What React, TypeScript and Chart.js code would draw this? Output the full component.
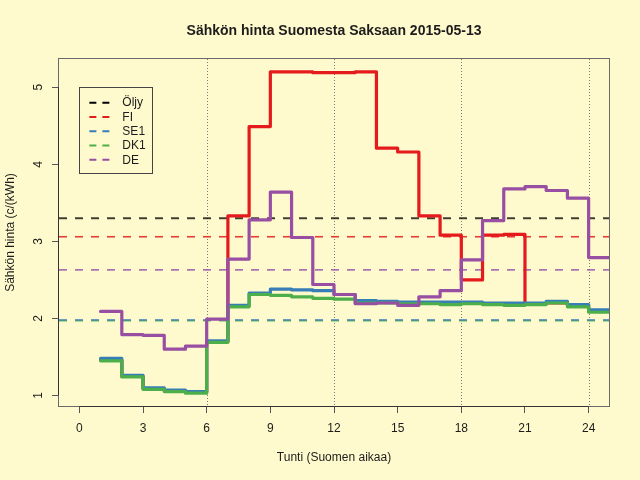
import React, { useEffect, useRef } from 'react';
import { Chart, registerables } from 'chart.js';

Chart.register(...registerables);

const TITLE = 'Sähkön hinta Suomesta Saksaan 2015-05-13';
const X_TITLE = 'Tunti (Suomen aikaa)';
const Y_TITLE = 'Sähkön hinta (c/(kWh)';

const hours = [1, 2, 3, 4, 5, 6, 7, 8, 9, 10, 11, 12, 13, 14, 15, 16, 17, 18, 19, 20, 21, 22, 23, 24];
const fiPrice = [1.46, 1.25, 1.09, 1.06, 1.04, 1.70, 3.33, 4.49, 5.20, 5.20, 5.19, 5.19, 5.20, 4.21, 4.16, 3.33, 3.08, 2.50, 3.08, 3.09, 2.19, 2.20, 2.17, 2.10];
const se1Price = [1.48, 1.26, 1.10, 1.07, 1.05, 1.71, 2.17, 2.33, 2.38, 2.37, 2.36, 2.31, 2.23, 2.22, 2.21, 2.21, 2.21, 2.21, 2.20, 2.20, 2.20, 2.22, 2.18, 2.11];
const dk1Price = [1.45, 1.24, 1.08, 1.05, 1.03, 1.69, 2.15, 2.31, 2.30, 2.28, 2.26, 2.25, 2.20, 2.20, 2.19, 2.19, 2.18, 2.19, 2.18, 2.17, 2.18, 2.20, 2.15, 2.08];
const dePrice = [2.09, 1.79, 1.78, 1.60, 1.64, 1.99, 2.77, 3.28, 3.64, 3.05, 2.44, 2.31, 2.19, 2.20, 2.17, 2.28, 2.36, 2.76, 3.27, 3.68, 3.71, 3.66, 3.56, 2.79];

const legendLabels = ['Öljy', 'FI', 'SE1', 'DK1', 'DE'];
const refLevels = [3.30, 3.06, 1.98, 1.97, 2.63];
const refDrawOrder = [0, 1, 3, 2, 4];
const colors = ['#000000', '#E41A1C', '#377EB8', '#4DAF4A', '#984EA3'];

const xTicks = [0, 3, 6, 9, 12, 15, 18, 21, 24];
const yTicks = [1, 2, 3, 4, 5];
const vLines = [6, 12, 18, 24];
const xRange = [-0.96, 24.96];
const yRange = [0.863, 5.367];
const legendAnchor = [0, 5];

const FONT = '"Liberation Sans", Arial, Helvetica, sans-serif';
const BG = '#FFFACD';
const INK = '#1c1c1c';

function stepData(vals: number[]) {
  const pts = hours.map((h, i) => ({ x: h, y: vals[i] }));
  pts.push({ x: hours[hours.length - 1] + 1, y: vals[vals.length - 1] });
  return pts;
}

const rPlugin = {
  id: 'rstyle',
  beforeDraw(chart: any) {
    const { ctx, width, height } = chart;
    ctx.save();
    ctx.fillStyle = BG;
    ctx.fillRect(0, 0, width, height);
    ctx.restore();
  },
  beforeDatasetsDraw(chart: any) {
    const { ctx, chartArea: a, scales } = chart;
    const x = scales.x, y = scales.y;
    ctx.save();
    ctx.beginPath();
    ctx.rect(a.left, a.top, a.right - a.left, a.bottom - a.top);
    ctx.clip();
    ctx.strokeStyle = '#7a7a7a';
    ctx.lineWidth = 1;
    ctx.setLineDash([1, 2]);
    vLines.forEach((v) => {
      const px = Math.round(x.getPixelForValue(v)) + 0.5;
      ctx.beginPath();
      ctx.moveTo(px, a.top);
      ctx.lineTo(px, a.bottom);
      ctx.stroke();
    });
    ctx.setLineDash([8, 8]);
    refDrawOrder.forEach((i) => {
      const py = y.getPixelForValue(refLevels[i]);
      ctx.strokeStyle = colors[i];
      ctx.lineWidth = i === 0 ? 2 : 1.6;
      ctx.globalAlpha = i === 0 ? 0.75 : 0.85;
      ctx.beginPath();
      ctx.moveTo(a.left, py);
      ctx.lineTo(a.right, py);
      ctx.stroke();
    });
    ctx.restore();
  },
  afterDraw(chart: any) {
    const { ctx, chartArea: a, scales } = chart;
    const x = scales.x, y = scales.y;
    ctx.save();
    // box
    ctx.strokeStyle = '#6a6a6a';
    ctx.lineWidth = 1;
    ctx.strokeRect(a.left - 0.5, a.top - 0.5, a.right - a.left + 1, a.bottom - a.top + 1);
    // axis lines
    ctx.strokeStyle = '#333333';
    ctx.beginPath();
    ctx.moveTo(x.getPixelForValue(xTicks[0]), a.bottom + 0.5);
    ctx.lineTo(x.getPixelForValue(xTicks[xTicks.length - 1]), a.bottom + 0.5);
    ctx.moveTo(a.left - 0.5, y.getPixelForValue(yTicks[0]));
    ctx.lineTo(a.left - 0.5, y.getPixelForValue(yTicks[yTicks.length - 1]));
    ctx.stroke();
    // y tick labels (rotated like R)
    ctx.fillStyle = INK;
    ctx.font = '12px ' + FONT;
    ctx.textAlign = 'center';
    ctx.textBaseline = 'middle';
    y.ticks.forEach((t: any) => {
      const py = y.getPixelForValue(t.value);
      ctx.save();
      ctx.translate(39, py);
      ctx.rotate(-Math.PI / 2);
      ctx.fillText(String(t.value), 0, 0);
      ctx.restore();
    });
    // title
    ctx.font = 'bold 14px ' + FONT;
    ctx.textBaseline = 'alphabetic';
    ctx.fillText(TITLE, (a.left + a.right) / 2, 35);
    // axis titles
    ctx.font = '12px ' + FONT;
    ctx.fillText(X_TITLE, (a.left + a.right) / 2, 461);
    ctx.save();
    ctx.translate(14, (a.top + a.bottom) / 2);
    ctx.rotate(-Math.PI / 2);
    ctx.fillText(Y_TITLE, 0, 0);
    ctx.restore();
    // legend
    const lx = x.getPixelForValue(legendAnchor[0]);
    const ly = y.getPixelForValue(legendAnchor[1]);
    ctx.strokeStyle = '#444444';
    ctx.lineWidth = 1;
    ctx.setLineDash([]);
    ctx.strokeRect(Math.round(lx) + 0.5, Math.round(ly) + 0.5, 73, 86);
    ctx.textAlign = 'left';
    ctx.textBaseline = 'middle';
    legendLabels.forEach((lab, i) => {
      const ry = ly + 15.4 + i * 14.3;
      ctx.strokeStyle = colors[i];
      ctx.lineWidth = 2;
      ctx.setLineDash([7, 6]);
      ctx.beginPath();
      ctx.moveTo(lx + 10, ry);
      ctx.lineTo(lx + 30, ry);
      ctx.stroke();
      ctx.fillStyle = INK;
      ctx.fillText(lab, lx + 43, ry + 0.5);
    });
    ctx.restore();
  },
};

export default function App() {
  const ref = useRef<HTMLCanvasElement | null>(null);
  useEffect(() => {
    document.body.style.margin = '0';
    document.body.style.background = BG;
    if (!ref.current) return;
    const series = [
      { label: 'FI', data: stepData(fiPrice), color: colors[1], order: 4 },
      { label: 'SE1', data: stepData(se1Price), color: colors[2], order: 3 },
      { label: 'DK1', data: stepData(dk1Price), color: colors[3], order: 2 },
      { label: 'DE', data: stepData(dePrice), color: colors[4], order: 1 },
    ];
    const chart = new Chart(ref.current, {
      type: 'line',
      data: {
        datasets: series.map((s) => ({
          label: s.label,
          data: s.data,
          borderColor: s.color,
          backgroundColor: s.color,
          borderWidth: 3.2,
          pointRadius: 0,
          fill: false,
          stepped: 'before',
          tension: 0,
          order: s.order,
          clip: 0,
          borderJoinStyle: 'round',
          borderCapStyle: 'round',
        })),
      },
      options: {
        animation: false,
        responsive: false,
        devicePixelRatio: 1,
        events: [],
        layout: { padding: { left: 0, top: 59, right: 31, bottom: 0 } },
        plugins: { legend: { display: false }, tooltip: { enabled: false }, title: { display: false } },
        scales: {
          x: {
            type: 'linear',
            min: xRange[0],
            max: xRange[1],
            afterBuildTicks: (s: any) => { s.ticks = xTicks.map((v) => ({ value: v })); },
            afterFit: (s: any) => { s.height = 74; },
            ticks: {
              autoSkip: false,
              maxRotation: 0,
              padding: 8,
              color: INK,
              font: { family: FONT, size: 12 },
              callback: (v: any) => String(v),
            },
            grid: { drawOnChartArea: false, drawTicks: true, tickLength: 7, color: '#555555', lineWidth: 1 },
            border: { display: false },
          },
          y: {
            type: 'linear',
            min: yRange[0],
            max: yRange[1],
            afterBuildTicks: (s: any) => { s.ticks = yTicks.map((v) => ({ value: v })); },
            afterFit: (s: any) => { s.width = 59; },
            ticks: { display: false },
            grid: { drawOnChartArea: false, drawTicks: true, tickLength: 7, color: '#555555', lineWidth: 1 },
            border: { display: false },
          },
        },
      },
      plugins: [rPlugin],
    } as any);
    return () => chart.destroy();
  }, []);
  return <canvas ref={ref} width={640} height={480} style={{ display: 'block' }} />;
}
